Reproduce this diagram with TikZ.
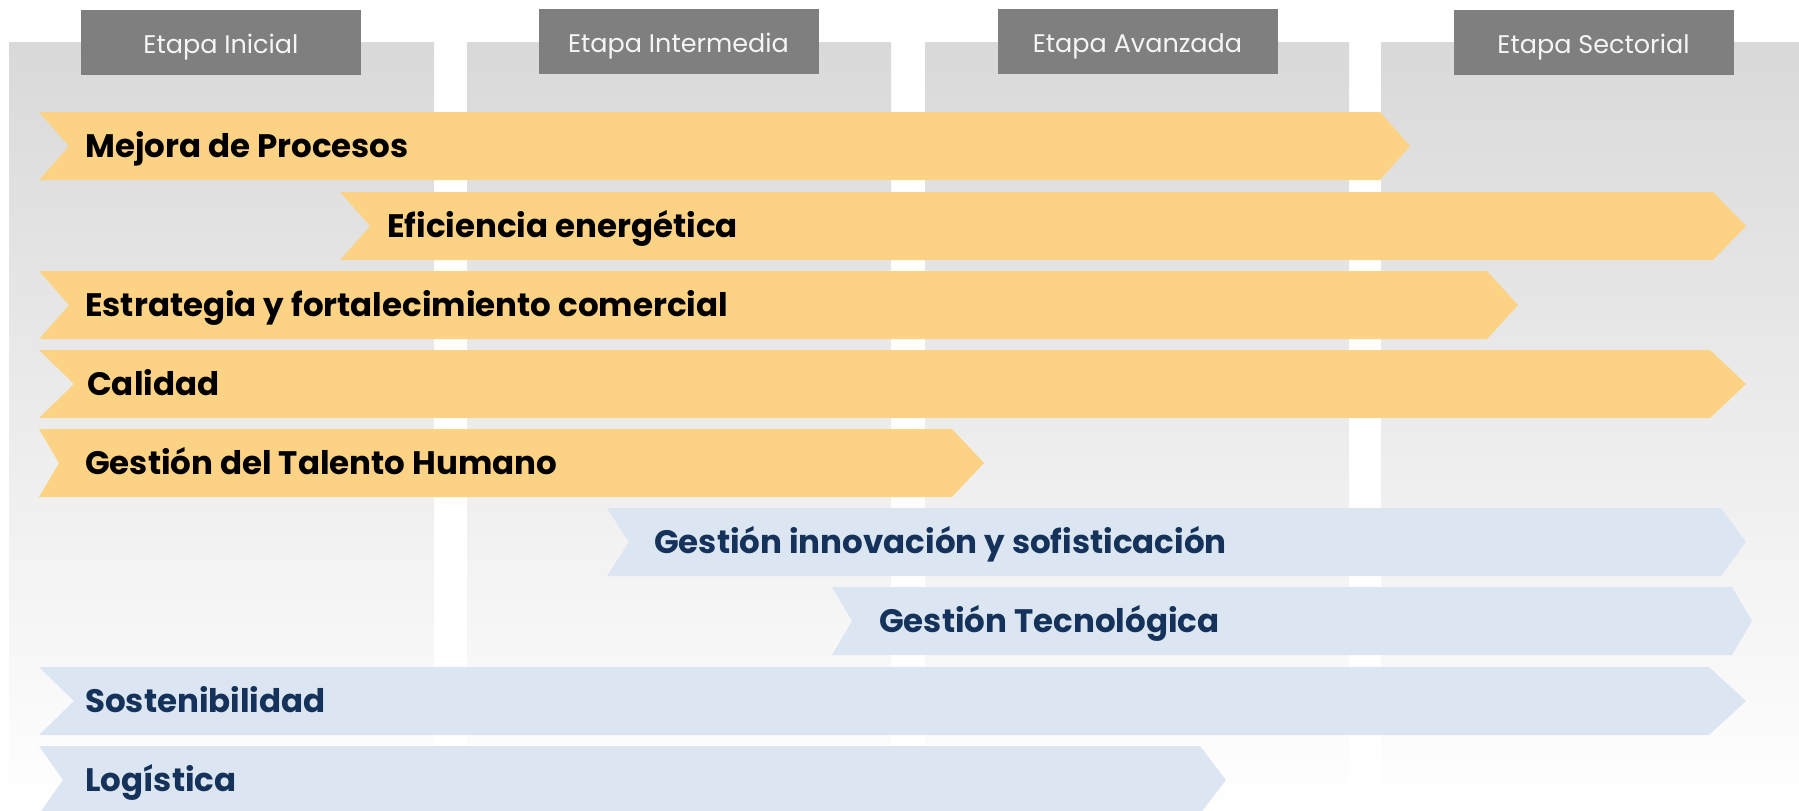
\documentclass[tikz,border=0pt]{standalone}
\usepackage{fontspec}
\setmainfont{Poppins}
\definecolor{colgray}{HTML}{D9D9D9}
\definecolor{hdrgray}{HTML}{7F7F7F}
\definecolor{hdrtext}{HTML}{F5F5F5}
\definecolor{ybar}{HTML}{FCD385}
\definecolor{bbar}{HTML}{DCE6F2}
\definecolor{btext}{HTML}{14325A}
\tikzset{
  colbox/.style={top color=colgray, bottom color=white, draw=none},
  hdrbox/.style={fill=hdrgray, draw=none, minimum width=280pt, minimum height=65pt, inner sep=0pt},
  hdrlabel/.style={anchor=base, inner sep=0pt, text=hdrtext, font=\fontsize{25.5}{28}\selectfont},
  ybarfill/.style={fill=ybar},
  bbarfill/.style={fill=bbar},
  ylabel/.style={anchor=base west, inner sep=0pt, text=black, font=\bfseries\fontsize{32.5}{36}\selectfont},
  blabel/.style={anchor=base west, inner sep=0pt, text=btext, font=\bfseries\fontsize{32.5}{36}\selectfont},
}
% #1 fill style, #2 top y, #3 left x, #4 notch depth, #5 tip x, #6 tip depth
\newcommand\bannershape[6]{%
  \path[#1] (#3,#2) -- ({#5-#6},#2) -- (#5,{#2+34}) -- ({#5-#6},{#2+68}) -- (#3,{#2+68}) -- ({#3+#4},{#2+34}) -- cycle;}
\begin{document}
\begin{tikzpicture}[x=1pt,y=-1pt]
\useasboundingbox (0,0) rectangle (1799,811);
\clip (0,0) rectangle (1799,811);
% columns
\shade[colbox] (9,42) rectangle (434,811);
\shade[colbox] (467,42) rectangle (891,811);
\shade[colbox] (925,42) rectangle (1349,811);
\shade[colbox] (1381,42) rectangle (1799,811);
% headers
\node[hdrbox] (h1) at (221,42.5) {};
\node[hdrbox] (h2) at (678.5,41.5) {};
\node[hdrbox] (h3) at (1137.5,41.5) {};
\node[hdrbox] (h4) at (1593.5,42.5) {};
\node[hdrlabel] (t1) at (221,53) {Etapa Inicial};
\node[hdrlabel] (t2) at (678.5,52) {Etapa Intermedia};
\node[hdrlabel] (t3) at (1137.5,52) {Etapa Avanzada};
\node[hdrlabel] (t4) at (1593.5,53) {Etapa Sectorial};
% banners
\bannershape{ybarfill}{112}{39}{30}{1410}{30}
\node[ylabel] (b1) at (85,157) {Mejora de Procesos};
\bannershape{ybarfill}{192}{340}{30}{1746}{33}
\node[ylabel] (b2) at (387,237) {Eficiencia energética};
\bannershape{ybarfill}{271}{39}{30}{1518}{31}
\node[ylabel] (b3) at (85,316) {Estrategia y fortalecimiento comercial};
\bannershape{ybarfill}{350}{39}{35}{1746}{36}
\node[ylabel] (b4) at (87,395) {Calidad};
\bannershape{ybarfill}{429}{39}{20}{984}{32}
\node[ylabel] (b5) at (85,474) {Gestión del Talento Humano};
\bannershape{bbarfill}{508}{607}{22}{1746}{25}
\node[blabel] (b6) at (654,553) {Gestión innovación y sofisticación};
\bannershape{bbarfill}{587}{832}{20}{1752}{20}
\node[blabel] (b7) at (879,632) {Gestión Tecnológica};
\bannershape{bbarfill}{667}{39}{35}{1746}{37}
\node[blabel] (b8) at (85,712) {Sostenibilidad};
\bannershape{bbarfill}{746}{39}{24}{1226}{26}
\node[blabel] (b9) at (85,791) {Logística};
\end{tikzpicture}
\end{document}
